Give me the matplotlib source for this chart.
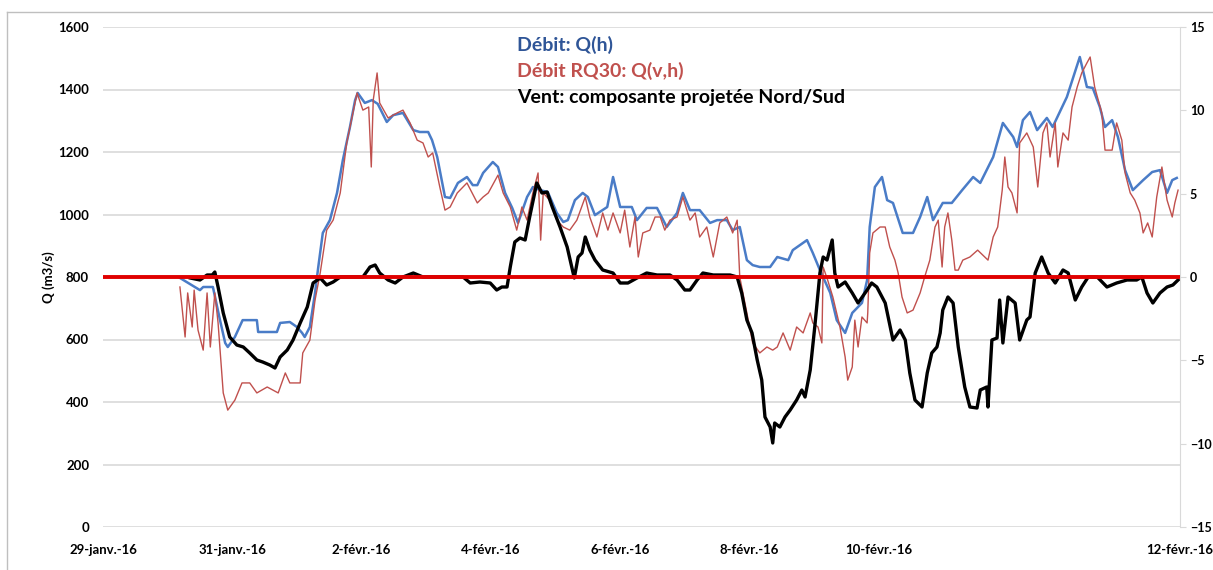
import matplotlib
matplotlib.use("Agg")
import matplotlib.pyplot as plt
from matplotlib.lines import Line2D

# x in days after 29-janv.-16
q_h_days = [1.19, 1.50, 1.55, 1.70, 1.81, 1.89, 1.93, 2.04, 2.16, 2.38, 2.40, 2.69, 2.74, 2.89, 3.00,
            3.08, 3.12, 3.20, 3.28, 3.33, 3.40, 3.51, 3.62, 3.71, 3.82, 3.90, 3.94, 4.05, 4.16, 4.25,
            4.39, 4.49, 4.64, 4.80, 4.90, 5.03, 5.09, 5.17, 5.29, 5.37, 5.49, 5.63, 5.72, 5.79, 5.88,
            6.03, 6.11, 6.22, 6.33, 6.42, 6.56, 6.65, 6.76, 6.88, 7.02, 7.12, 7.19, 7.30, 7.42, 7.50,
            7.61, 7.80, 7.89, 8.00, 8.18, 8.26, 8.41, 8.57, 8.72, 8.88, 8.97, 9.08, 9.23, 9.39, 9.50,
            9.65, 9.74, 9.85, 9.96, 10.05, 10.16, 10.32, 10.43, 10.60, 10.67, 10.89, 10.98, 11.09,
            11.25, 11.35, 11.48, 11.59, 11.74, 11.82, 11.86, 11.94, 12.05, 12.13, 12.22, 12.37, 12.53,
            12.64, 12.75, 12.84, 12.99, 13.13, 13.29, 13.46, 13.57, 13.77, 13.92, 14.08, 14.14, 14.23,
            14.34, 14.45, 14.60, 14.69, 14.91, 15.11, 15.22, 15.31, 15.42, 15.50, 15.61, 15.70, 15.81,
            15.93, 16.09, 16.23, 16.35, 16.46, 16.54, 16.61]
q_h = [797, 758, 768, 768, 662, 589, 576, 608, 662, 662, 624, 624, 653, 656, 640,
       621, 608, 640, 749, 832, 941, 982, 1069, 1174, 1280, 1366, 1389, 1357, 1366, 1354,
       1296, 1318, 1325, 1270, 1264, 1264, 1238, 1184, 1056, 1053, 1101, 1120, 1094, 1094, 1133,
       1168, 1152, 1069, 1021, 973, 1056, 1088, 1078, 1072, 1005, 976, 982, 1046, 1069, 1056,
       998, 1024, 1120, 1024, 1024, 982, 1021, 1021, 960, 1005, 1069, 1014, 1014, 973, 982,
       982, 950, 960, 854, 838, 832, 832, 864, 854, 886, 918, 877, 822,
       749, 662, 621, 685, 717, 790, 960, 1088, 1120, 1046, 1037, 941, 941,
       992, 1056, 982, 1037, 1037, 1078, 1120, 1101, 1184, 1293, 1248, 1216, 1302,
       1328, 1270, 1309, 1280, 1376, 1504, 1408, 1405, 1344, 1280, 1302, 1248, 1142,
       1078, 1110, 1136, 1142, 1069, 1110, 1117]

rq30_days = [1.19, 1.27, 1.31, 1.38, 1.41, 1.47, 1.55, 1.61, 1.66, 1.73, 1.78, 1.86, 1.93, 2.04, 2.15,
             2.27, 2.38, 2.54, 2.63, 2.71, 2.82, 2.89, 3.05, 3.09, 3.20, 3.28, 3.36, 3.46, 3.56, 3.67,
             3.77, 3.93, 4.02, 4.11, 4.15, 4.18, 4.24, 4.28, 4.41, 4.55, 4.64, 4.75, 4.86, 4.95, 5.03,
             5.10, 5.21, 5.29, 5.37, 5.48, 5.63, 5.71, 5.79, 5.88, 5.96, 6.11, 6.19, 6.30, 6.40, 6.48,
             6.56, 6.65, 6.73, 6.77, 6.81, 6.91, 7.02, 7.12, 7.22, 7.33, 7.46, 7.53, 7.64, 7.73, 7.81,
             7.89, 8.00, 8.07, 8.15, 8.23, 8.28, 8.35, 8.46, 8.54, 8.62, 8.69, 8.77, 8.88, 8.97, 9.08,
             9.16, 9.23, 9.34, 9.44, 9.54, 9.65, 9.74, 9.81, 9.85, 9.96, 10.05, 10.16, 10.27, 10.36,
             10.43, 10.52, 10.63, 10.73, 10.83, 10.94, 10.98, 11.06, 11.12, 11.14, 11.21, 11.29, 11.40,
             11.48, 11.52, 11.59, 11.63, 11.68, 11.74, 11.82, 11.83, 11.86, 11.91, 12.02, 12.10, 12.17,
             12.25, 12.30, 12.36, 12.44, 12.53, 12.64, 12.71, 12.79, 12.87, 12.92, 12.98, 13.02, 13.07,
             13.13, 13.18, 13.23, 13.30, 13.41, 13.53, 13.69, 13.77, 13.84, 13.91, 13.95, 14.00, 14.06,
             14.14, 14.18, 14.29, 14.39, 14.46, 14.54, 14.60, 14.65, 14.73, 14.77, 14.85, 14.93, 14.99,
             15.07, 15.14, 15.22, 15.27, 15.34, 15.45, 15.50, 15.61, 15.68, 15.76, 15.81, 15.89, 15.96,
             16.04, 16.09, 16.16, 16.23, 16.30, 16.38, 16.46, 16.54, 16.58, 16.63]
rq30 = [768, 608, 749, 640, 758, 630, 566, 749, 576, 749, 653, 429, 374, 406, 461,
        461, 429, 448, 438, 429, 493, 461, 461, 557, 598, 726, 813, 950, 982, 1069,
        1229, 1389, 1334, 1344, 1152, 1366, 1453, 1357, 1309, 1325, 1334, 1293, 1238, 1229, 1184,
        1197, 1088, 1014, 1024, 1069, 1101, 1069, 1037, 1056, 1069, 1126, 1069, 1024, 950, 1024,
        982, 1069, 1133, 918, 1069, 1046, 982, 960, 950, 982, 1056, 992, 928, 1005, 950,
        1005, 941, 1014, 896, 992, 864, 941, 950, 992, 992, 950, 982, 992, 1056, 982,
        1005, 928, 960, 864, 973, 992, 941, 982, 800, 685, 589, 557, 576, 566,
        576, 621, 566, 640, 621, 685, 653, 640, 589, 832, 790, 736, 640,
        544, 470, 512, 662, 576, 672, 653, 685, 877, 941, 960, 960, 896,
        854, 813, 736, 685, 694, 749, 800, 854, 960, 982, 832, 960, 1005,
        918, 822, 822, 854, 864, 886, 854, 928, 960, 1078, 1184, 1088, 1069,
        1005, 1229, 1261, 1216, 1088, 1261, 1293, 1184, 1293, 1152, 1261, 1238, 1344,
        1408, 1453, 1485, 1504, 1408, 1325, 1206, 1206, 1293, 1238, 1133, 1069, 1046,
        1005, 941, 973, 928, 1056, 1152, 1046, 992, 1037, 1078]

wind_days = [1.35, 1.50, 1.61, 1.69, 1.73, 1.78, 1.86, 1.96, 2.07, 2.17, 2.27, 2.38, 2.47, 2.58, 2.66,
             2.74, 2.85, 2.94, 3.05, 3.16, 3.25, 3.36, 3.46, 3.56, 3.67, 4.02, 4.13, 4.21, 4.28, 4.41,
             4.52, 4.64, 4.80, 4.95, 5.17, 5.57, 5.68, 5.83, 5.99, 6.09, 6.17, 6.25, 6.30, 6.37, 6.45,
             6.53, 6.60, 6.71, 6.79, 6.87, 6.95, 7.07, 7.18, 7.25, 7.29, 7.35, 7.41, 7.46, 7.53, 7.61,
             7.73, 7.89, 8.00, 8.12, 8.26, 8.41, 8.57, 8.77, 8.88, 9.00, 9.08, 9.19, 9.28, 9.44, 9.70,
             9.81, 9.88, 9.96, 10.04, 10.12, 10.19, 10.24, 10.32, 10.36, 10.39, 10.47, 10.55, 10.63,
             10.73, 10.81, 10.86, 10.94, 11.01, 11.09, 11.14, 11.20, 11.28, 11.32, 11.37, 11.48, 11.59,
             11.68, 11.82, 11.89, 11.97, 12.10, 12.22, 12.33, 12.41, 12.48, 12.56, 12.67, 12.75, 12.82,
             12.90, 12.95, 12.99, 13.07, 13.15, 13.23, 13.33, 13.41, 13.52, 13.57, 13.67, 13.69, 13.75,
             13.83, 13.87, 13.92, 14.00, 14.11, 14.18, 14.29, 14.34, 14.42, 14.52, 14.62, 14.73, 14.85,
             14.93, 15.04, 15.14, 15.24, 15.38, 15.53, 15.68, 15.84, 15.99, 16.07, 16.15, 16.24, 16.35,
             16.46, 16.55, 16.63]
wind = [-0.06, -0.18, 0.12, 0.12, 0.30, -0.60, -2.16, -3.60, -4.08, -4.20, -4.56, -4.98, -5.10, -5.28, -5.46,
        -4.80, -4.38, -3.78, -2.76, -1.80, -0.36, -0.06, -0.48, -0.30, 0.0, 0.0, 0.60, 0.72, 0.24, -0.18,
        -0.36, 0.0, 0.24, 0.0, 0.0, 0.0, -0.36, -0.30, -0.36, -0.78, -0.60, -0.60, 0.60, 2.10, 2.34,
        2.22, 3.60, 5.64, 5.04, 5.10, 4.20, 3.00, 1.80, 0.60, -0.06, 1.20, 1.44, 2.40, 1.62, 1.02,
        0.42, 0.24, -0.36, -0.36, -0.06, 0.24, 0.12, 0.12, -0.18, -0.78, -0.78, -0.18, 0.24, 0.12, 0.12,
        0.0, -0.96, -2.58, -3.36, -4.98, -6.18, -8.40, -9.00, -9.96, -8.76, -9.00, -8.40, -7.98,
        -7.38, -6.78, -7.20, -5.58, -3.00, 0.24, 1.20, 1.02, 2.22, 0.24, -0.60, -0.30, -0.96,
        -1.56, -0.78, -0.36, -0.60, -1.56, -3.78, -3.18, -3.78, -5.76, -7.38, -7.80, -5.76, -4.56,
        -4.20, -3.36, -1.98, -1.20, -1.56, -4.20, -6.60, -7.80, -7.86, -6.78, -6.60, -7.80, -3.78,
        -3.66, -1.38, -3.96, -1.20, -1.56, -3.78, -2.58, -2.40, 0.24, 1.20, 0.24, -0.36, 0.42,
        0.24, -1.38, -0.60, 0.0, 0.0, -0.60, -0.36, -0.18, -0.18, 0.0, -0.96, -1.56, -0.96,
        -0.60, -0.48, -0.18]

tick_days = [0, 2, 4, 6, 8, 10, 12, 16.66]
tick_labels = ["29-janv.-16", "31-janv.-16", "2-févr.-16", "4-févr.-16", "6-févr.-16",
               "8-févr.-16", "10-févr.-16", "12-févr.-16"]
legend_texts = ["Débit: Q(h)", "Débit RQ30: Q(v,h)", "Vent: composante projetée Nord/Sud"]

plt.rcParams['font.family'] = ['Lato', 'DejaVu Sans']
plt.rcParams['font.weight'] = 'bold'

fig = plt.figure(figsize=(12.13, 5.70), dpi=100)
ax = fig.add_axes([103 / 1213, 43 / 570, 1077 / 1213, 500 / 570])
ax2 = ax.twinx()

grid_c = '#D9D9D9'
ax.set_ylim(0, 1600)
ax.set_xlim(0, 16.66)
ax.set_yticks(range(0, 1601, 200))
ax.grid(axis='y', color=grid_c, linewidth=1.2)
ax.set_axisbelow(True)
for s in ['top', 'left', 'right', 'bottom']:
    ax.spines[s].set_visible(False)
ax.tick_params(axis='y', length=0, pad=10, labelsize=9.5)
ax.set_xticks(tick_days)
ax.set_xticklabels(tick_labels)
ax.tick_params(axis='x', length=0, pad=12, labelsize=9.5)
ax.set_ylabel("Q (m3/s)", fontsize=9.5, fontweight='bold', labelpad=2)

ax.plot(q_h_days, q_h, color='#4A7CC7', linewidth=1.8, zorder=3)
ax.plot(rq30_days, rq30, color='#C0504D', linewidth=1.0, zorder=4)

ax2.set_ylim(-15, 15)
ax2.set_yticks(range(-15, 16, 5))
for s in ['top', 'left', 'bottom']:
    ax2.spines[s].set_visible(False)
ax2.spines['right'].set_color(grid_c)
ax2.tick_params(axis='y', length=4, color=grid_c, pad=3, labelsize=9)
ax2.plot(wind_days, wind, color='black', linewidth=2.4, zorder=3)
ax2.axhline(0, color='#E00000', linewidth=2.8, zorder=4)

# legend written as coloured text
leg_colors = ['#2F5597', '#C0504D', 'black']
leg_y = [1 - 45 / 570, 1 - 71 / 570, 1 - 98 / 570]
for txt, c, yy in zip(legend_texts, leg_colors, leg_y):
    fig.text(517 / 1213, yy, txt, color=c, fontsize=14, fontweight='bold', va='center', ha='left')

# chart area border
fig.add_artist(Line2D([7 / 1213, 1], [1 - 12 / 570, 1 - 12 / 570], transform=fig.transFigure,
                      color='#BFBFBF', linewidth=1.0))
fig.add_artist(Line2D([7 / 1213, 7 / 1213], [0, 1 - 12 / 570], transform=fig.transFigure,
                      color='#BFBFBF', linewidth=1.0))

fig.savefig("out.png", dpi=100)
